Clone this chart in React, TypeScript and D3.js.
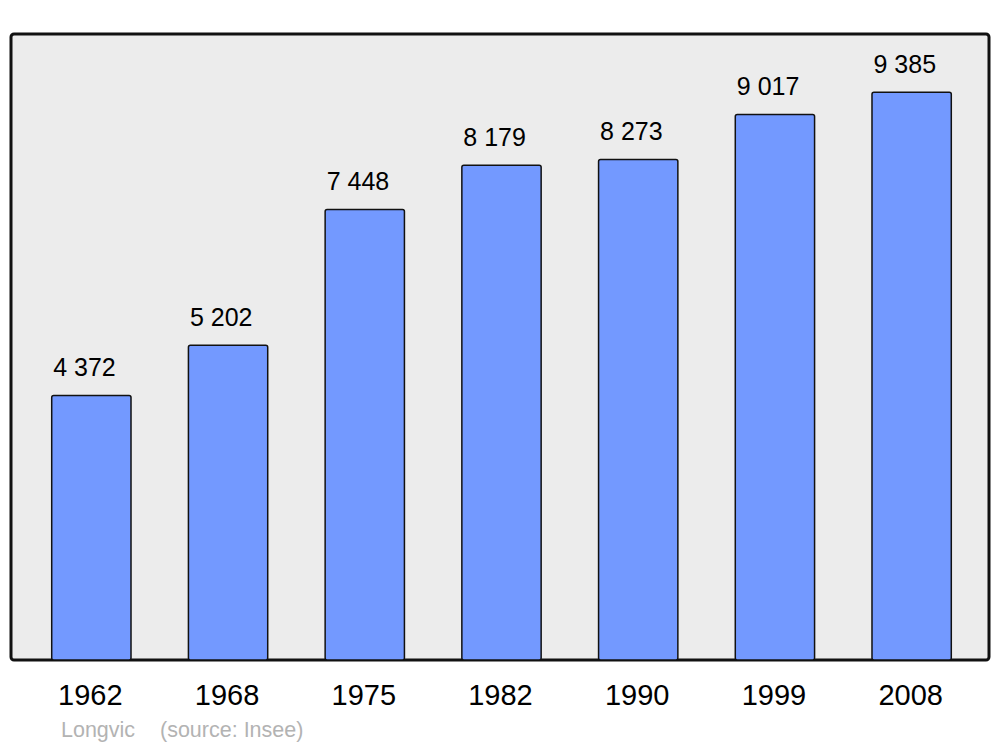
import React from "react";
import * as d3 from "d3";

const years = ["1962", "1968", "1975", "1982", "1990", "1999", "2008"];
const population = [4372, 5202, 7448, 8179, 8273, 9017, 9385];
const commune = "Longvic";
const source = "(source: Insee)";

const W = 1000;
const H = 747;

function fmt(v: number) {
  const s = String(v);
  return s.length > 3 ? s.slice(0, s.length - 3) + "\u00a0" + s.slice(-3) : s;
}

export default function App() {
  const x = d3.scaleBand<string>().domain(years).range([23, 980]).paddingInner(0.42).paddingOuter(0.21);
  const y = d3.scaleLinear().domain([0, 10000]).range([660, 55]);
  const font = "'Liberation Sans', Arial, sans-serif";
  return (
    <svg width={W} height={H} style={{ position: "absolute", left: 0, top: 0, fontFamily: font }}>
      <rect x={0} y={0} width={W} height={H} fill="#ffffff" />
      <rect x={11} y={34} width={978} height={626} rx={3} ry={3} fill="#ececec" stroke="#111" strokeWidth={3} />
      {years.map((yr, i) => {
        const v = population[i];
        const bx = x(yr)!;
        const bw = x.bandwidth();
        return (
          <g key={yr}>
            <rect x={bx} y={y(v)} width={bw} height={660 - y(v)} rx={2} ry={2} fill="#7399ff" stroke="#111" strokeWidth={1.5} />
            <text x={bx + 1.5} y={y(v) - 19} textAnchor="start" fontSize={25} fill="#000">{fmt(v)}</text>
            <text x={bx + bw / 2 - 1} y={705} textAnchor="middle" fontSize={29} fill="#000">{yr}</text>
          </g>
        );
      })}
      <text x={61} y={737} fontSize={21.5} fill="#b3b3b3">{commune}</text>
      <text x={160} y={737} fontSize={21.5} fill="#b3b3b3">{source}</text>
    </svg>
  );
}
